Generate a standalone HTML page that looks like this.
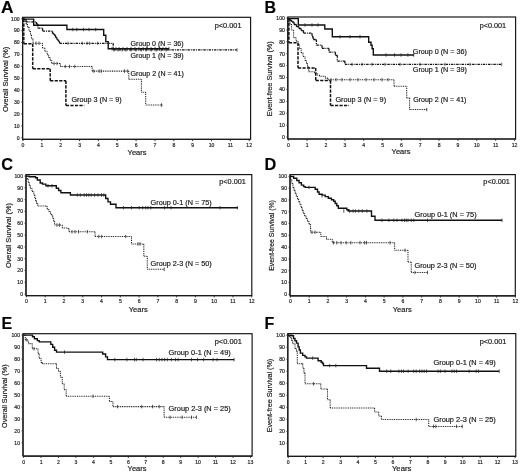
<!DOCTYPE html><html><head><meta charset="utf-8"><style>html,body{margin:0;padding:0;background:#fff;}svg{display:block;will-change:transform;}</style></head><body>
<svg width="520" height="474" viewBox="0 0 520 474" font-family='"Liberation Sans", sans-serif'>
<style>text{stroke:#222;stroke-width:0.18px;}</style>
<rect width="520" height="474" fill="#fff"/>
<text transform="translate(1,13) scale(1.08,1)" font-size="16" font-weight="bold" fill="#000">A</text>
<rect x="22.6" y="17.3" width="228" height="122.1" fill="none" stroke="#111" stroke-width="1.15"/>
<line x1="22.6" y1="17.3" x2="22.6" y2="139.4" stroke="#1a1a1a" stroke-width="1.15"/>
<line x1="22.6" y1="139.4" x2="250.6" y2="139.4" stroke="#1a1a1a" stroke-width="1.15"/>
<line x1="21" y1="137.8" x2="22.6" y2="137.8" stroke="#333" stroke-width="0.7"/>
<text x="19.6" y="139.6" font-size="5.1" text-anchor="end" fill="#222">0</text>
<line x1="21" y1="125.89" x2="22.6" y2="125.89" stroke="#333" stroke-width="0.7"/>
<text x="19.6" y="127.69" font-size="5.1" text-anchor="end" fill="#222">10</text>
<line x1="21" y1="113.98" x2="22.6" y2="113.98" stroke="#333" stroke-width="0.7"/>
<text x="19.6" y="115.78" font-size="5.1" text-anchor="end" fill="#222">20</text>
<line x1="21" y1="102.07" x2="22.6" y2="102.07" stroke="#333" stroke-width="0.7"/>
<text x="19.6" y="103.87" font-size="5.1" text-anchor="end" fill="#222">30</text>
<line x1="21" y1="90.16" x2="22.6" y2="90.16" stroke="#333" stroke-width="0.7"/>
<text x="19.6" y="91.96" font-size="5.1" text-anchor="end" fill="#222">40</text>
<line x1="21" y1="78.25" x2="22.6" y2="78.25" stroke="#333" stroke-width="0.7"/>
<text x="19.6" y="80.05" font-size="5.1" text-anchor="end" fill="#222">50</text>
<line x1="21" y1="66.34" x2="22.6" y2="66.34" stroke="#333" stroke-width="0.7"/>
<text x="19.6" y="68.14" font-size="5.1" text-anchor="end" fill="#222">60</text>
<line x1="21" y1="54.43" x2="22.6" y2="54.43" stroke="#333" stroke-width="0.7"/>
<text x="19.6" y="56.23" font-size="5.1" text-anchor="end" fill="#222">70</text>
<line x1="21" y1="42.52" x2="22.6" y2="42.52" stroke="#333" stroke-width="0.7"/>
<text x="19.6" y="44.32" font-size="5.1" text-anchor="end" fill="#222">80</text>
<line x1="21" y1="30.61" x2="22.6" y2="30.61" stroke="#333" stroke-width="0.7"/>
<text x="19.6" y="32.41" font-size="5.1" text-anchor="end" fill="#222">90</text>
<line x1="21" y1="18.7" x2="22.6" y2="18.7" stroke="#333" stroke-width="0.7"/>
<text x="19.6" y="20.5" font-size="5.1" text-anchor="end" fill="#222">100</text>
<line x1="23" y1="139.4" x2="23" y2="141.2" stroke="#222" stroke-width="0.9"/>
<text x="23" y="146.95" font-size="5.1" text-anchor="middle" fill="#222">0</text>
<line x1="41.85" y1="139.4" x2="41.85" y2="141.2" stroke="#222" stroke-width="0.9"/>
<text x="41.85" y="146.95" font-size="5.1" text-anchor="middle" fill="#222">1</text>
<line x1="60.7" y1="139.4" x2="60.7" y2="141.2" stroke="#222" stroke-width="0.9"/>
<text x="60.7" y="146.95" font-size="5.1" text-anchor="middle" fill="#222">2</text>
<line x1="79.55" y1="139.4" x2="79.55" y2="141.2" stroke="#222" stroke-width="0.9"/>
<text x="79.55" y="146.95" font-size="5.1" text-anchor="middle" fill="#222">3</text>
<line x1="98.4" y1="139.4" x2="98.4" y2="141.2" stroke="#222" stroke-width="0.9"/>
<text x="98.4" y="146.95" font-size="5.1" text-anchor="middle" fill="#222">4</text>
<line x1="117.25" y1="139.4" x2="117.25" y2="141.2" stroke="#222" stroke-width="0.9"/>
<text x="117.25" y="146.95" font-size="5.1" text-anchor="middle" fill="#222">5</text>
<line x1="136.1" y1="139.4" x2="136.1" y2="141.2" stroke="#222" stroke-width="0.9"/>
<text x="136.1" y="146.95" font-size="5.1" text-anchor="middle" fill="#222">6</text>
<line x1="154.95" y1="139.4" x2="154.95" y2="141.2" stroke="#222" stroke-width="0.9"/>
<text x="154.95" y="146.95" font-size="5.1" text-anchor="middle" fill="#222">7</text>
<line x1="173.8" y1="139.4" x2="173.8" y2="141.2" stroke="#222" stroke-width="0.9"/>
<text x="173.8" y="146.95" font-size="5.1" text-anchor="middle" fill="#222">8</text>
<line x1="192.65" y1="139.4" x2="192.65" y2="141.2" stroke="#222" stroke-width="0.9"/>
<text x="192.65" y="146.95" font-size="5.1" text-anchor="middle" fill="#222">9</text>
<line x1="211.5" y1="139.4" x2="211.5" y2="141.2" stroke="#222" stroke-width="0.9"/>
<text x="211.5" y="146.95" font-size="5.1" text-anchor="middle" fill="#222">10</text>
<line x1="230.35" y1="139.4" x2="230.35" y2="141.2" stroke="#222" stroke-width="0.9"/>
<text x="230.35" y="146.95" font-size="5.1" text-anchor="middle" fill="#222">11</text>
<line x1="249.2" y1="139.4" x2="249.2" y2="141.2" stroke="#222" stroke-width="0.9"/>
<text x="249.2" y="146.95" font-size="5.1" text-anchor="middle" fill="#222">12</text>
<text x="264.5" y="12.9" font-size="16" font-weight="bold" fill="#000">B</text>
<rect x="287.8" y="17" width="227.8" height="122" fill="none" stroke="#111" stroke-width="1.15"/>
<line x1="287.8" y1="17" x2="287.8" y2="139" stroke="#1a1a1a" stroke-width="1.15"/>
<line x1="287.8" y1="139" x2="515.6" y2="139" stroke="#1a1a1a" stroke-width="1.15"/>
<line x1="286.2" y1="137" x2="287.8" y2="137" stroke="#333" stroke-width="0.7"/>
<text x="284.8" y="138.8" font-size="5.1" text-anchor="end" fill="#222">0</text>
<line x1="286.2" y1="125.11" x2="287.8" y2="125.11" stroke="#333" stroke-width="0.7"/>
<text x="284.8" y="126.91" font-size="5.1" text-anchor="end" fill="#222">10</text>
<line x1="286.2" y1="113.22" x2="287.8" y2="113.22" stroke="#333" stroke-width="0.7"/>
<text x="284.8" y="115.02" font-size="5.1" text-anchor="end" fill="#222">20</text>
<line x1="286.2" y1="101.33" x2="287.8" y2="101.33" stroke="#333" stroke-width="0.7"/>
<text x="284.8" y="103.13" font-size="5.1" text-anchor="end" fill="#222">30</text>
<line x1="286.2" y1="89.44" x2="287.8" y2="89.44" stroke="#333" stroke-width="0.7"/>
<text x="284.8" y="91.24" font-size="5.1" text-anchor="end" fill="#222">40</text>
<line x1="286.2" y1="77.55" x2="287.8" y2="77.55" stroke="#333" stroke-width="0.7"/>
<text x="284.8" y="79.35" font-size="5.1" text-anchor="end" fill="#222">50</text>
<line x1="286.2" y1="65.66" x2="287.8" y2="65.66" stroke="#333" stroke-width="0.7"/>
<text x="284.8" y="67.46" font-size="5.1" text-anchor="end" fill="#222">60</text>
<line x1="286.2" y1="53.77" x2="287.8" y2="53.77" stroke="#333" stroke-width="0.7"/>
<text x="284.8" y="55.57" font-size="5.1" text-anchor="end" fill="#222">70</text>
<line x1="286.2" y1="41.88" x2="287.8" y2="41.88" stroke="#333" stroke-width="0.7"/>
<text x="284.8" y="43.68" font-size="5.1" text-anchor="end" fill="#222">80</text>
<line x1="286.2" y1="29.99" x2="287.8" y2="29.99" stroke="#333" stroke-width="0.7"/>
<text x="284.8" y="31.79" font-size="5.1" text-anchor="end" fill="#222">90</text>
<line x1="286.2" y1="18.1" x2="287.8" y2="18.1" stroke="#333" stroke-width="0.7"/>
<text x="284.8" y="19.9" font-size="5.1" text-anchor="end" fill="#222">100</text>
<line x1="288.3" y1="139" x2="288.3" y2="140.8" stroke="#222" stroke-width="0.9"/>
<text x="288.3" y="146.55" font-size="5.1" text-anchor="middle" fill="#222">0</text>
<line x1="307.15" y1="139" x2="307.15" y2="140.8" stroke="#222" stroke-width="0.9"/>
<text x="307.15" y="146.55" font-size="5.1" text-anchor="middle" fill="#222">1</text>
<line x1="326" y1="139" x2="326" y2="140.8" stroke="#222" stroke-width="0.9"/>
<text x="326" y="146.55" font-size="5.1" text-anchor="middle" fill="#222">2</text>
<line x1="344.85" y1="139" x2="344.85" y2="140.8" stroke="#222" stroke-width="0.9"/>
<text x="344.85" y="146.55" font-size="5.1" text-anchor="middle" fill="#222">3</text>
<line x1="363.7" y1="139" x2="363.7" y2="140.8" stroke="#222" stroke-width="0.9"/>
<text x="363.7" y="146.55" font-size="5.1" text-anchor="middle" fill="#222">4</text>
<line x1="382.55" y1="139" x2="382.55" y2="140.8" stroke="#222" stroke-width="0.9"/>
<text x="382.55" y="146.55" font-size="5.1" text-anchor="middle" fill="#222">5</text>
<line x1="401.4" y1="139" x2="401.4" y2="140.8" stroke="#222" stroke-width="0.9"/>
<text x="401.4" y="146.55" font-size="5.1" text-anchor="middle" fill="#222">6</text>
<line x1="420.25" y1="139" x2="420.25" y2="140.8" stroke="#222" stroke-width="0.9"/>
<text x="420.25" y="146.55" font-size="5.1" text-anchor="middle" fill="#222">7</text>
<line x1="439.1" y1="139" x2="439.1" y2="140.8" stroke="#222" stroke-width="0.9"/>
<text x="439.1" y="146.55" font-size="5.1" text-anchor="middle" fill="#222">8</text>
<line x1="457.95" y1="139" x2="457.95" y2="140.8" stroke="#222" stroke-width="0.9"/>
<text x="457.95" y="146.55" font-size="5.1" text-anchor="middle" fill="#222">9</text>
<line x1="476.8" y1="139" x2="476.8" y2="140.8" stroke="#222" stroke-width="0.9"/>
<text x="476.8" y="146.55" font-size="5.1" text-anchor="middle" fill="#222">10</text>
<line x1="495.65" y1="139" x2="495.65" y2="140.8" stroke="#222" stroke-width="0.9"/>
<text x="495.65" y="146.55" font-size="5.1" text-anchor="middle" fill="#222">11</text>
<line x1="514.5" y1="139" x2="514.5" y2="140.8" stroke="#222" stroke-width="0.9"/>
<text x="514.5" y="146.55" font-size="5.1" text-anchor="middle" fill="#222">12</text>
<text x="1.2" y="169.9" font-size="16.3" font-weight="bold" fill="#000">C</text>
<rect x="26" y="174.6" width="225.8" height="121" fill="none" stroke="#111" stroke-width="1.15"/>
<line x1="26" y1="174.6" x2="26" y2="295.6" stroke="#1a1a1a" stroke-width="1.15"/>
<line x1="26" y1="295.6" x2="251.8" y2="295.6" stroke="#1a1a1a" stroke-width="1.15"/>
<line x1="24.4" y1="294.1" x2="26" y2="294.1" stroke="#333" stroke-width="0.7"/>
<text x="23" y="295.9" font-size="5.1" text-anchor="end" fill="#222">0</text>
<line x1="24.4" y1="282.3" x2="26" y2="282.3" stroke="#333" stroke-width="0.7"/>
<text x="23" y="284.1" font-size="5.1" text-anchor="end" fill="#222">10</text>
<line x1="24.4" y1="270.5" x2="26" y2="270.5" stroke="#333" stroke-width="0.7"/>
<text x="23" y="272.3" font-size="5.1" text-anchor="end" fill="#222">20</text>
<line x1="24.4" y1="258.7" x2="26" y2="258.7" stroke="#333" stroke-width="0.7"/>
<text x="23" y="260.5" font-size="5.1" text-anchor="end" fill="#222">30</text>
<line x1="24.4" y1="246.9" x2="26" y2="246.9" stroke="#333" stroke-width="0.7"/>
<text x="23" y="248.7" font-size="5.1" text-anchor="end" fill="#222">40</text>
<line x1="24.4" y1="235.1" x2="26" y2="235.1" stroke="#333" stroke-width="0.7"/>
<text x="23" y="236.9" font-size="5.1" text-anchor="end" fill="#222">50</text>
<line x1="24.4" y1="223.3" x2="26" y2="223.3" stroke="#333" stroke-width="0.7"/>
<text x="23" y="225.1" font-size="5.1" text-anchor="end" fill="#222">60</text>
<line x1="24.4" y1="211.5" x2="26" y2="211.5" stroke="#333" stroke-width="0.7"/>
<text x="23" y="213.3" font-size="5.1" text-anchor="end" fill="#222">70</text>
<line x1="24.4" y1="199.7" x2="26" y2="199.7" stroke="#333" stroke-width="0.7"/>
<text x="23" y="201.5" font-size="5.1" text-anchor="end" fill="#222">80</text>
<line x1="24.4" y1="187.9" x2="26" y2="187.9" stroke="#333" stroke-width="0.7"/>
<text x="23" y="189.7" font-size="5.1" text-anchor="end" fill="#222">90</text>
<line x1="24.4" y1="176.1" x2="26" y2="176.1" stroke="#333" stroke-width="0.7"/>
<text x="23" y="177.9" font-size="5.1" text-anchor="end" fill="#222">100</text>
<line x1="26.4" y1="295.6" x2="26.4" y2="297.4" stroke="#222" stroke-width="0.9"/>
<text x="26.4" y="303.15" font-size="5.1" text-anchor="middle" fill="#222">0</text>
<line x1="45.18" y1="295.6" x2="45.18" y2="297.4" stroke="#222" stroke-width="0.9"/>
<text x="45.18" y="303.15" font-size="5.1" text-anchor="middle" fill="#222">1</text>
<line x1="63.96" y1="295.6" x2="63.96" y2="297.4" stroke="#222" stroke-width="0.9"/>
<text x="63.96" y="303.15" font-size="5.1" text-anchor="middle" fill="#222">2</text>
<line x1="82.74" y1="295.6" x2="82.74" y2="297.4" stroke="#222" stroke-width="0.9"/>
<text x="82.74" y="303.15" font-size="5.1" text-anchor="middle" fill="#222">3</text>
<line x1="101.52" y1="295.6" x2="101.52" y2="297.4" stroke="#222" stroke-width="0.9"/>
<text x="101.52" y="303.15" font-size="5.1" text-anchor="middle" fill="#222">4</text>
<line x1="120.3" y1="295.6" x2="120.3" y2="297.4" stroke="#222" stroke-width="0.9"/>
<text x="120.3" y="303.15" font-size="5.1" text-anchor="middle" fill="#222">5</text>
<line x1="139.08" y1="295.6" x2="139.08" y2="297.4" stroke="#222" stroke-width="0.9"/>
<text x="139.08" y="303.15" font-size="5.1" text-anchor="middle" fill="#222">6</text>
<line x1="157.86" y1="295.6" x2="157.86" y2="297.4" stroke="#222" stroke-width="0.9"/>
<text x="157.86" y="303.15" font-size="5.1" text-anchor="middle" fill="#222">7</text>
<line x1="176.64" y1="295.6" x2="176.64" y2="297.4" stroke="#222" stroke-width="0.9"/>
<text x="176.64" y="303.15" font-size="5.1" text-anchor="middle" fill="#222">8</text>
<line x1="195.42" y1="295.6" x2="195.42" y2="297.4" stroke="#222" stroke-width="0.9"/>
<text x="195.42" y="303.15" font-size="5.1" text-anchor="middle" fill="#222">9</text>
<line x1="214.2" y1="295.6" x2="214.2" y2="297.4" stroke="#222" stroke-width="0.9"/>
<text x="214.2" y="303.15" font-size="5.1" text-anchor="middle" fill="#222">10</text>
<line x1="232.98" y1="295.6" x2="232.98" y2="297.4" stroke="#222" stroke-width="0.9"/>
<text x="232.98" y="303.15" font-size="5.1" text-anchor="middle" fill="#222">11</text>
<line x1="251.76" y1="295.6" x2="251.76" y2="297.4" stroke="#222" stroke-width="0.9"/>
<text x="251.76" y="303.15" font-size="5.1" text-anchor="middle" fill="#222">12</text>
<text x="264.5" y="169.6" font-size="16.3" font-weight="bold" fill="#000">D</text>
<rect x="290" y="174.6" width="225.3" height="121.2" fill="none" stroke="#111" stroke-width="1.15"/>
<line x1="290" y1="174.6" x2="290" y2="295.8" stroke="#1a1a1a" stroke-width="1.15"/>
<line x1="290" y1="295.8" x2="515.3" y2="295.8" stroke="#1a1a1a" stroke-width="1.15"/>
<line x1="288.4" y1="294.3" x2="290" y2="294.3" stroke="#333" stroke-width="0.7"/>
<text x="287" y="296.1" font-size="5.1" text-anchor="end" fill="#222">0</text>
<line x1="288.4" y1="282.51" x2="290" y2="282.51" stroke="#333" stroke-width="0.7"/>
<text x="287" y="284.31" font-size="5.1" text-anchor="end" fill="#222">10</text>
<line x1="288.4" y1="270.72" x2="290" y2="270.72" stroke="#333" stroke-width="0.7"/>
<text x="287" y="272.52" font-size="5.1" text-anchor="end" fill="#222">20</text>
<line x1="288.4" y1="258.93" x2="290" y2="258.93" stroke="#333" stroke-width="0.7"/>
<text x="287" y="260.73" font-size="5.1" text-anchor="end" fill="#222">30</text>
<line x1="288.4" y1="247.14" x2="290" y2="247.14" stroke="#333" stroke-width="0.7"/>
<text x="287" y="248.94" font-size="5.1" text-anchor="end" fill="#222">40</text>
<line x1="288.4" y1="235.35" x2="290" y2="235.35" stroke="#333" stroke-width="0.7"/>
<text x="287" y="237.15" font-size="5.1" text-anchor="end" fill="#222">50</text>
<line x1="288.4" y1="223.56" x2="290" y2="223.56" stroke="#333" stroke-width="0.7"/>
<text x="287" y="225.36" font-size="5.1" text-anchor="end" fill="#222">60</text>
<line x1="288.4" y1="211.77" x2="290" y2="211.77" stroke="#333" stroke-width="0.7"/>
<text x="287" y="213.57" font-size="5.1" text-anchor="end" fill="#222">70</text>
<line x1="288.4" y1="199.98" x2="290" y2="199.98" stroke="#333" stroke-width="0.7"/>
<text x="287" y="201.78" font-size="5.1" text-anchor="end" fill="#222">80</text>
<line x1="288.4" y1="188.19" x2="290" y2="188.19" stroke="#333" stroke-width="0.7"/>
<text x="287" y="189.99" font-size="5.1" text-anchor="end" fill="#222">90</text>
<line x1="288.4" y1="176.4" x2="290" y2="176.4" stroke="#333" stroke-width="0.7"/>
<text x="287" y="178.2" font-size="5.1" text-anchor="end" fill="#222">100</text>
<line x1="290.4" y1="295.8" x2="290.4" y2="297.6" stroke="#222" stroke-width="0.9"/>
<text x="290.4" y="303.35" font-size="5.1" text-anchor="middle" fill="#222">0</text>
<line x1="309.15" y1="295.8" x2="309.15" y2="297.6" stroke="#222" stroke-width="0.9"/>
<text x="309.15" y="303.35" font-size="5.1" text-anchor="middle" fill="#222">1</text>
<line x1="327.9" y1="295.8" x2="327.9" y2="297.6" stroke="#222" stroke-width="0.9"/>
<text x="327.9" y="303.35" font-size="5.1" text-anchor="middle" fill="#222">2</text>
<line x1="346.65" y1="295.8" x2="346.65" y2="297.6" stroke="#222" stroke-width="0.9"/>
<text x="346.65" y="303.35" font-size="5.1" text-anchor="middle" fill="#222">3</text>
<line x1="365.4" y1="295.8" x2="365.4" y2="297.6" stroke="#222" stroke-width="0.9"/>
<text x="365.4" y="303.35" font-size="5.1" text-anchor="middle" fill="#222">4</text>
<line x1="384.15" y1="295.8" x2="384.15" y2="297.6" stroke="#222" stroke-width="0.9"/>
<text x="384.15" y="303.35" font-size="5.1" text-anchor="middle" fill="#222">5</text>
<line x1="402.9" y1="295.8" x2="402.9" y2="297.6" stroke="#222" stroke-width="0.9"/>
<text x="402.9" y="303.35" font-size="5.1" text-anchor="middle" fill="#222">6</text>
<line x1="421.65" y1="295.8" x2="421.65" y2="297.6" stroke="#222" stroke-width="0.9"/>
<text x="421.65" y="303.35" font-size="5.1" text-anchor="middle" fill="#222">7</text>
<line x1="440.4" y1="295.8" x2="440.4" y2="297.6" stroke="#222" stroke-width="0.9"/>
<text x="440.4" y="303.35" font-size="5.1" text-anchor="middle" fill="#222">8</text>
<line x1="459.15" y1="295.8" x2="459.15" y2="297.6" stroke="#222" stroke-width="0.9"/>
<text x="459.15" y="303.35" font-size="5.1" text-anchor="middle" fill="#222">9</text>
<line x1="477.9" y1="295.8" x2="477.9" y2="297.6" stroke="#222" stroke-width="0.9"/>
<text x="477.9" y="303.35" font-size="5.1" text-anchor="middle" fill="#222">10</text>
<line x1="496.65" y1="295.8" x2="496.65" y2="297.6" stroke="#222" stroke-width="0.9"/>
<text x="496.65" y="303.35" font-size="5.1" text-anchor="middle" fill="#222">11</text>
<line x1="515.4" y1="295.8" x2="515.4" y2="297.6" stroke="#222" stroke-width="0.9"/>
<text x="515.4" y="303.35" font-size="5.1" text-anchor="middle" fill="#222">12</text>
<text x="1.6" y="328.9" font-size="16" font-weight="bold" fill="#000">E</text>
<rect x="23" y="333.7" width="229.1" height="122.4" fill="none" stroke="#111" stroke-width="1.15"/>
<line x1="23" y1="333.7" x2="23" y2="456.1" stroke="#1a1a1a" stroke-width="1.15"/>
<line x1="23" y1="456.1" x2="252.1" y2="456.1" stroke="#1a1a1a" stroke-width="1.15"/>
<line x1="21.4" y1="442.92" x2="23" y2="442.92" stroke="#333" stroke-width="0.7"/>
<text x="20" y="444.72" font-size="5.1" text-anchor="end" fill="#222">10</text>
<line x1="21.4" y1="430.94" x2="23" y2="430.94" stroke="#333" stroke-width="0.7"/>
<text x="20" y="432.74" font-size="5.1" text-anchor="end" fill="#222">20</text>
<line x1="21.4" y1="418.96" x2="23" y2="418.96" stroke="#333" stroke-width="0.7"/>
<text x="20" y="420.76" font-size="5.1" text-anchor="end" fill="#222">30</text>
<line x1="21.4" y1="406.98" x2="23" y2="406.98" stroke="#333" stroke-width="0.7"/>
<text x="20" y="408.78" font-size="5.1" text-anchor="end" fill="#222">40</text>
<line x1="21.4" y1="395" x2="23" y2="395" stroke="#333" stroke-width="0.7"/>
<text x="20" y="396.8" font-size="5.1" text-anchor="end" fill="#222">50</text>
<line x1="21.4" y1="383.02" x2="23" y2="383.02" stroke="#333" stroke-width="0.7"/>
<text x="20" y="384.82" font-size="5.1" text-anchor="end" fill="#222">60</text>
<line x1="21.4" y1="371.04" x2="23" y2="371.04" stroke="#333" stroke-width="0.7"/>
<text x="20" y="372.84" font-size="5.1" text-anchor="end" fill="#222">70</text>
<line x1="21.4" y1="359.06" x2="23" y2="359.06" stroke="#333" stroke-width="0.7"/>
<text x="20" y="360.86" font-size="5.1" text-anchor="end" fill="#222">80</text>
<line x1="21.4" y1="347.08" x2="23" y2="347.08" stroke="#333" stroke-width="0.7"/>
<text x="20" y="348.88" font-size="5.1" text-anchor="end" fill="#222">90</text>
<line x1="21.4" y1="335.1" x2="23" y2="335.1" stroke="#333" stroke-width="0.7"/>
<text x="20" y="336.9" font-size="5.1" text-anchor="end" fill="#222">100</text>
<line x1="23.6" y1="456.1" x2="23.6" y2="457.9" stroke="#222" stroke-width="0.9"/>
<text x="23.6" y="463.65" font-size="5.1" text-anchor="middle" fill="#222">0</text>
<line x1="41.05" y1="456.1" x2="41.05" y2="457.9" stroke="#222" stroke-width="0.9"/>
<text x="41.05" y="463.65" font-size="5.1" text-anchor="middle" fill="#222">1</text>
<line x1="58.5" y1="456.1" x2="58.5" y2="457.9" stroke="#222" stroke-width="0.9"/>
<text x="58.5" y="463.65" font-size="5.1" text-anchor="middle" fill="#222">2</text>
<line x1="75.95" y1="456.1" x2="75.95" y2="457.9" stroke="#222" stroke-width="0.9"/>
<text x="75.95" y="463.65" font-size="5.1" text-anchor="middle" fill="#222">3</text>
<line x1="93.4" y1="456.1" x2="93.4" y2="457.9" stroke="#222" stroke-width="0.9"/>
<text x="93.4" y="463.65" font-size="5.1" text-anchor="middle" fill="#222">4</text>
<line x1="110.85" y1="456.1" x2="110.85" y2="457.9" stroke="#222" stroke-width="0.9"/>
<text x="110.85" y="463.65" font-size="5.1" text-anchor="middle" fill="#222">5</text>
<line x1="128.3" y1="456.1" x2="128.3" y2="457.9" stroke="#222" stroke-width="0.9"/>
<text x="128.3" y="463.65" font-size="5.1" text-anchor="middle" fill="#222">6</text>
<line x1="145.75" y1="456.1" x2="145.75" y2="457.9" stroke="#222" stroke-width="0.9"/>
<text x="145.75" y="463.65" font-size="5.1" text-anchor="middle" fill="#222">7</text>
<line x1="163.2" y1="456.1" x2="163.2" y2="457.9" stroke="#222" stroke-width="0.9"/>
<text x="163.2" y="463.65" font-size="5.1" text-anchor="middle" fill="#222">8</text>
<line x1="180.65" y1="456.1" x2="180.65" y2="457.9" stroke="#222" stroke-width="0.9"/>
<text x="180.65" y="463.65" font-size="5.1" text-anchor="middle" fill="#222">9</text>
<line x1="198.1" y1="456.1" x2="198.1" y2="457.9" stroke="#222" stroke-width="0.9"/>
<text x="198.1" y="463.65" font-size="5.1" text-anchor="middle" fill="#222">10</text>
<line x1="215.55" y1="456.1" x2="215.55" y2="457.9" stroke="#222" stroke-width="0.9"/>
<text x="215.55" y="463.65" font-size="5.1" text-anchor="middle" fill="#222">11</text>
<line x1="233" y1="456.1" x2="233" y2="457.9" stroke="#222" stroke-width="0.9"/>
<text x="233" y="463.65" font-size="5.1" text-anchor="middle" fill="#222">12</text>
<line x1="250.45" y1="456.1" x2="250.45" y2="457.9" stroke="#222" stroke-width="0.9"/>
<text x="250.45" y="463.65" font-size="5.1" text-anchor="middle" fill="#222">13</text>
<text x="264.4" y="328.9" font-size="16" font-weight="bold" fill="#000">F</text>
<rect x="287.8" y="333.6" width="228" height="122.8" fill="none" stroke="#111" stroke-width="1.15"/>
<line x1="287.8" y1="333.6" x2="287.8" y2="456.4" stroke="#1a1a1a" stroke-width="1.15"/>
<line x1="287.8" y1="456.4" x2="515.8" y2="456.4" stroke="#1a1a1a" stroke-width="1.15"/>
<line x1="286.2" y1="443.21" x2="287.8" y2="443.21" stroke="#333" stroke-width="0.7"/>
<text x="284.8" y="445.01" font-size="5.1" text-anchor="end" fill="#222">10</text>
<line x1="286.2" y1="431.22" x2="287.8" y2="431.22" stroke="#333" stroke-width="0.7"/>
<text x="284.8" y="433.02" font-size="5.1" text-anchor="end" fill="#222">20</text>
<line x1="286.2" y1="419.23" x2="287.8" y2="419.23" stroke="#333" stroke-width="0.7"/>
<text x="284.8" y="421.03" font-size="5.1" text-anchor="end" fill="#222">30</text>
<line x1="286.2" y1="407.24" x2="287.8" y2="407.24" stroke="#333" stroke-width="0.7"/>
<text x="284.8" y="409.04" font-size="5.1" text-anchor="end" fill="#222">40</text>
<line x1="286.2" y1="395.25" x2="287.8" y2="395.25" stroke="#333" stroke-width="0.7"/>
<text x="284.8" y="397.05" font-size="5.1" text-anchor="end" fill="#222">50</text>
<line x1="286.2" y1="383.26" x2="287.8" y2="383.26" stroke="#333" stroke-width="0.7"/>
<text x="284.8" y="385.06" font-size="5.1" text-anchor="end" fill="#222">60</text>
<line x1="286.2" y1="371.27" x2="287.8" y2="371.27" stroke="#333" stroke-width="0.7"/>
<text x="284.8" y="373.07" font-size="5.1" text-anchor="end" fill="#222">70</text>
<line x1="286.2" y1="359.28" x2="287.8" y2="359.28" stroke="#333" stroke-width="0.7"/>
<text x="284.8" y="361.08" font-size="5.1" text-anchor="end" fill="#222">80</text>
<line x1="286.2" y1="347.29" x2="287.8" y2="347.29" stroke="#333" stroke-width="0.7"/>
<text x="284.8" y="349.09" font-size="5.1" text-anchor="end" fill="#222">90</text>
<line x1="286.2" y1="335.3" x2="287.8" y2="335.3" stroke="#333" stroke-width="0.7"/>
<text x="284.8" y="337.1" font-size="5.1" text-anchor="end" fill="#222">100</text>
<line x1="288.2" y1="456.4" x2="288.2" y2="458.2" stroke="#222" stroke-width="0.9"/>
<text x="288.2" y="463.95" font-size="5.1" text-anchor="middle" fill="#222">0</text>
<line x1="305.65" y1="456.4" x2="305.65" y2="458.2" stroke="#222" stroke-width="0.9"/>
<text x="305.65" y="463.95" font-size="5.1" text-anchor="middle" fill="#222">1</text>
<line x1="323.1" y1="456.4" x2="323.1" y2="458.2" stroke="#222" stroke-width="0.9"/>
<text x="323.1" y="463.95" font-size="5.1" text-anchor="middle" fill="#222">2</text>
<line x1="340.55" y1="456.4" x2="340.55" y2="458.2" stroke="#222" stroke-width="0.9"/>
<text x="340.55" y="463.95" font-size="5.1" text-anchor="middle" fill="#222">3</text>
<line x1="358" y1="456.4" x2="358" y2="458.2" stroke="#222" stroke-width="0.9"/>
<text x="358" y="463.95" font-size="5.1" text-anchor="middle" fill="#222">4</text>
<line x1="375.45" y1="456.4" x2="375.45" y2="458.2" stroke="#222" stroke-width="0.9"/>
<text x="375.45" y="463.95" font-size="5.1" text-anchor="middle" fill="#222">5</text>
<line x1="392.9" y1="456.4" x2="392.9" y2="458.2" stroke="#222" stroke-width="0.9"/>
<text x="392.9" y="463.95" font-size="5.1" text-anchor="middle" fill="#222">6</text>
<line x1="410.35" y1="456.4" x2="410.35" y2="458.2" stroke="#222" stroke-width="0.9"/>
<text x="410.35" y="463.95" font-size="5.1" text-anchor="middle" fill="#222">7</text>
<line x1="427.8" y1="456.4" x2="427.8" y2="458.2" stroke="#222" stroke-width="0.9"/>
<text x="427.8" y="463.95" font-size="5.1" text-anchor="middle" fill="#222">8</text>
<line x1="445.25" y1="456.4" x2="445.25" y2="458.2" stroke="#222" stroke-width="0.9"/>
<text x="445.25" y="463.95" font-size="5.1" text-anchor="middle" fill="#222">9</text>
<line x1="462.7" y1="456.4" x2="462.7" y2="458.2" stroke="#222" stroke-width="0.9"/>
<text x="462.7" y="463.95" font-size="5.1" text-anchor="middle" fill="#222">10</text>
<line x1="480.15" y1="456.4" x2="480.15" y2="458.2" stroke="#222" stroke-width="0.9"/>
<text x="480.15" y="463.95" font-size="5.1" text-anchor="middle" fill="#222">11</text>
<line x1="497.6" y1="456.4" x2="497.6" y2="458.2" stroke="#222" stroke-width="0.9"/>
<text x="497.6" y="463.95" font-size="5.1" text-anchor="middle" fill="#222">12</text>
<line x1="515.05" y1="456.4" x2="515.05" y2="458.2" stroke="#222" stroke-width="0.9"/>
<text x="515.05" y="463.95" font-size="5.1" text-anchor="middle" fill="#222">13</text>
<text x="130.55" y="45.5" font-size="7.0" textLength="53.09" lengthAdjust="spacingAndGlyphs" fill="#111">Group 0 (N = 36)</text>
<text x="130.55" y="57.9" font-size="7.0" textLength="53.09" lengthAdjust="spacingAndGlyphs" fill="#111">Group 1 (N = 39)</text>
<text x="130.55" y="75.6" font-size="7.0" textLength="53.29" lengthAdjust="spacingAndGlyphs" fill="#111">Group 2 (N = 41)</text>
<text x="71.44" y="101.6" font-size="7.05" textLength="50.31" lengthAdjust="spacingAndGlyphs" fill="#111">Group 3 (N = 9)</text>
<text x="412.84" y="53.8" font-size="7.1" textLength="54.01" lengthAdjust="spacingAndGlyphs" fill="#111">Group 0 (N = 36)</text>
<text x="412.84" y="71.7" font-size="7.1" textLength="54.01" lengthAdjust="spacingAndGlyphs" fill="#111">Group 1 (N = 39)</text>
<text x="413.15" y="101.8" font-size="7.1" textLength="53.29" lengthAdjust="spacingAndGlyphs" fill="#111">Group 2 (N = 41)</text>
<text x="335.44" y="101.5" font-size="7.1" textLength="50.61" lengthAdjust="spacingAndGlyphs" fill="#111">Group 3 (N = 9)</text>
<text x="150.64" y="204.5" font-size="7.2" textLength="61.12" lengthAdjust="spacingAndGlyphs" fill="#111">Group 0-1 (N = 75)</text>
<text x="150.64" y="265.5" font-size="7.2" textLength="61.12" lengthAdjust="spacingAndGlyphs" fill="#111">Group 2-3 (N = 50)</text>
<text x="414.63" y="217" font-size="7.3" textLength="62.03" lengthAdjust="spacingAndGlyphs" fill="#111">Group 0-1 (N = 75)</text>
<text x="414.43" y="268" font-size="7.3" textLength="62.03" lengthAdjust="spacingAndGlyphs" fill="#111">Group 2-3 (N = 50)</text>
<text x="168.43" y="355.1" font-size="7.33" textLength="62.33" lengthAdjust="spacingAndGlyphs" fill="#111">Group 0-1 (N = 49)</text>
<text x="168.63" y="411" font-size="7.33" textLength="62.13" lengthAdjust="spacingAndGlyphs" fill="#111">Group 2-3 (N = 25)</text>
<text x="433.43" y="365" font-size="7.33" textLength="62.33" lengthAdjust="spacingAndGlyphs" fill="#111">Group 0-1 (N = 49)</text>
<text x="433.43" y="421.5" font-size="7.33" textLength="62.33" lengthAdjust="spacingAndGlyphs" fill="#111">Group 2-3 (N = 25)</text>
<text x="214.72" y="28" font-size="7.25" textLength="26.84" lengthAdjust="spacingAndGlyphs" fill="#111">p&lt;0.001</text>
<text x="479.73" y="27.8" font-size="7.25" textLength="26.43" lengthAdjust="spacingAndGlyphs" fill="#111">p&lt;0.001</text>
<text x="219.33" y="183.8" font-size="7.25" textLength="26.43" lengthAdjust="spacingAndGlyphs" fill="#111">p&lt;0.001</text>
<text x="483.33" y="184.2" font-size="7.25" textLength="26.53" lengthAdjust="spacingAndGlyphs" fill="#111">p&lt;0.001</text>
<text x="214.72" y="344.4" font-size="7.25" textLength="27.15" lengthAdjust="spacingAndGlyphs" fill="#111">p&lt;0.001</text>
<text x="479.72" y="344.4" font-size="7.25" textLength="26.64" lengthAdjust="spacingAndGlyphs" fill="#111">p&lt;0.001</text>
<text x="127.64" y="154.5" font-size="7.4" textLength="18.83" lengthAdjust="spacingAndGlyphs" fill="#111">Years</text>
<text x="391.64" y="154.2" font-size="7.4" textLength="18.83" lengthAdjust="spacingAndGlyphs" fill="#111">Years</text>
<text x="128.73" y="311.7" font-size="7.4" textLength="18.93" lengthAdjust="spacingAndGlyphs" fill="#111">Years</text>
<text x="392.73" y="311.7" font-size="7.4" textLength="18.93" lengthAdjust="spacingAndGlyphs" fill="#111">Years</text>
<text x="127.64" y="471.3" font-size="7.4" textLength="18.83" lengthAdjust="spacingAndGlyphs" fill="#111">Years</text>
<text x="391.93" y="471.3" font-size="7.4" textLength="19.44" lengthAdjust="spacingAndGlyphs" fill="#111">Years</text>
<text transform="translate(7.8,112.05) rotate(-90)" x="0" y="0" font-size="7.3" textLength="65.2" lengthAdjust="spacingAndGlyphs" fill="#111">Overall Survival (%)</text>
<text transform="translate(272.4,116.2) rotate(-90)" x="0" y="0" font-size="7.25" textLength="74.95" lengthAdjust="spacingAndGlyphs" fill="#111">Event-free Survival (%)</text>
<text transform="translate(11,268.05) rotate(-90)" x="0" y="0" font-size="7.3" textLength="65" lengthAdjust="spacingAndGlyphs" fill="#111">Overall Survival (%)</text>
<text transform="translate(274,270.76) rotate(-90)" x="0" y="0" font-size="7.0" textLength="70.59" lengthAdjust="spacingAndGlyphs" fill="#111">Event-free Survival (%)</text>
<text transform="translate(7.4,427.94) rotate(-90)" x="0" y="0" font-size="7.15" textLength="63.48" lengthAdjust="spacingAndGlyphs" fill="#111">Overall Survival (%)</text>
<text transform="translate(272,432.29) rotate(-90)" x="0" y="0" font-size="7.1" textLength="73.53" lengthAdjust="spacingAndGlyphs" fill="#111">Event-free Survival (%)</text>
<path d="M23 19.1H24.5M24.5 19.1V21M24.5 21H26M26 21V24M26 24H27.5M27.5 24V27M27.5 27H29M29 27V31M29 31H30.5M30.5 31V35M30.5 35H31.5M31.5 35V38.7M31.5 38.7H33M33 38.7V43.3M33 43.3H42.5M42.5 43.3V47.9M42.5 47.9H44.8M44.8 47.9V51.3M44.8 51.3H47.1M47.1 51.3V54.8M47.1 54.8H48.6M48.6 54.8V57.5M48.6 57.5H50.2M50.2 57.5V60.2M50.2 60.2H51.7M51.7 60.2V63.5M51.7 63.5H60.4M60.4 63.5V66.5M60.4 66.5H92.2M92.2 66.5V71.1M92.2 71.1H128.8M128.8 71.1V79.2M128.8 79.2H141.4M141.4 79.2V92.3M141.4 92.3H145.7M145.7 92.3V105M145.7 105H162.6" stroke="#222" stroke-width="1.05" fill="none" stroke-dasharray="1 0.8"/>
<path d="M36 41.55v3.5M39 41.55v3.5M54 61.75v3.5M57 61.75v3.5M65.3 64.75v3.5M69.5 64.75v3.5M74.8 64.75v3.5M93.8 69.35v3.5M99.1 69.35v3.5M101.3 69.35v3.5M124.5 69.35v3.5M127.7 69.35v3.5M161.5 103.25v3.5" stroke="#222" stroke-width="0.75" fill="none"/>
<path d="M23 19.1H23.8M23.8 19.1V43.8M23.8 43.8H32.7M32.7 43.8V68.7M32.7 68.7H50.2M50.2 68.7V80.8M50.2 80.8H65.9M65.9 80.8V105.6M65.9 105.6H84.3" stroke="#111" stroke-width="1.5" fill="none" stroke-dasharray="3.2 1.3"/>
<path d="M23 19.1H26M26 19.1V21.9M26 21.9H36.4M36.4 21.9V24M36.4 24H37.9M37.9 24V28.2M37.9 28.2H42.6M42.6 28.2V31.2M42.6 31.2H52.5M52.5 31.2V33.5M52.5 33.5H54M54 33.5V35M54 35H55.5M55.5 35V37.5M55.5 37.5H57M57 37.5V39.8M57 39.8H58.5M58.5 39.8V41.5M58.5 41.5H59.6M59.6 41.5V43.3M59.6 43.3H113.2M113.2 43.3V49.9M113.2 49.9H237" stroke="#111" stroke-width="1.3" fill="none" stroke-dasharray="2.5 0.9 1 0.9"/>
<path d="M68 41.55v3.5M82.2 41.55v3.5M87 41.55v3.5M89.6 41.55v3.5M97.7 41.55v3.5M114 48.15v3.5M118 48.15v3.5M122 48.15v3.5M126 48.15v3.5M131 48.15v3.5M136 48.15v3.5M141 48.15v3.5M146 48.15v3.5M151 48.15v3.5M156 48.15v3.5M161 48.15v3.5M166 48.15v3.5M237 48.15v3.5" stroke="#333" stroke-width="0.7" fill="none"/>
<path d="M23 19.1H33.7V25.3H66.9V29.5H103.7V35.3H105.8V41.6H108.2V48.7H169V48.7" stroke="#111" stroke-width="1.38" fill="none"/>
<path d="M72.8 27.75v3.5M76.8 27.75v3.5M83.5 27.75v3.5M89 27.75v3.5M95.7 27.75v3.5M112 46.95v3.5M116 46.95v3.5M119 46.95v3.5M123 46.95v3.5M127 46.95v3.5M131 46.95v3.5M135 46.95v3.5M139 46.95v3.5M143 46.95v3.5M147 46.95v3.5M151 46.95v3.5M155 46.95v3.5M159 46.95v3.5M163 46.95v3.5M166 46.95v3.5M169 46.95v3.5" stroke="#222" stroke-width="0.75" fill="none"/>
<path d="M288.3 18.6H289.8M289.8 18.6V24M289.8 24H291.5M291.5 24V30M291.5 30H293.6M293.6 30V37.6M293.6 37.6H296M296 37.6V41M296 41H298M298 41V44.6M298 44.6H299.5M299.5 44.6V48.5M299.5 48.5H301.2M301.2 48.5V52.8M301.2 52.8H303M303 52.8V56.5M303 56.5H305M305 56.5V60.4M305 60.4H306.5M306.5 60.4V63.5M306.5 63.5H307.5M307.5 63.5V66.7M307.5 66.7H308.8M308.8 66.7V71.8M308.8 71.8H314.5M314.5 71.8V73M314.5 73H317M317 73V75M317 75H319.5M319.5 75V76.2M319.5 76.2H325.2M325.2 76.2V78.1M325.2 78.1H327.8M327.8 78.1V79.7M327.8 79.7H394M394 79.7V86.3M394 86.3H406.7M406.7 86.3V98M406.7 98H409.6M409.6 98V109.5M409.6 109.5H426.8" stroke="#222" stroke-width="1.05" fill="none" stroke-dasharray="1 0.8"/>
<path d="M331 77.95v3.5M336 77.95v3.5M342 77.95v3.5M350 77.95v3.5M358 77.95v3.5M366 77.95v3.5M374 77.95v3.5M382 77.95v3.5M388 77.95v3.5M426.8 107.75v3.5" stroke="#222" stroke-width="0.75" fill="none"/>
<path d="M288.3 18.6H288.9M288.9 18.6V42.7M288.9 42.7H298M298 42.7V68M298 68H315.7M315.7 68V80.6M315.7 80.6H330.5M330.5 80.6V105.6M330.5 105.6H349.1" stroke="#111" stroke-width="1.5" fill="none" stroke-dasharray="3.2 1.3"/>
<path d="M288.3 18.6H290M290 18.6V20.5M290 20.5H291.9M291.9 20.5V22M291.9 22H294M294 22V24.5M294 24.5H296.5M296.5 24.5V26.7M296.5 26.7H299M299 26.7V28.5M299 28.5H301.2M301.2 28.5V30.6M301.2 30.6H303.5M303.5 30.6V33.2M303.5 33.2H312M312 33.2V36.5M312 36.5H313.2M313.2 36.5V39.5M313.2 39.5H316.4M316.4 39.5V45.2M316.4 45.2H322M322 45.2V48.4M322 48.4H329M329 48.4V52.2M329 52.2H335.4M335.4 52.2V55.3M335.4 55.3H337.3M337.3 55.3V61.1M337.3 61.1H344.9M344.9 61.1V64.4M344.9 64.4H501.7" stroke="#111" stroke-width="1.3" fill="none" stroke-dasharray="2.5 0.9 1 0.9"/>
<path d="M352 62.65v3.5M362 62.65v3.5M372 62.65v3.5M385 62.65v3.5M400 62.65v3.5M420 62.65v3.5M445 62.65v3.5M470 62.65v3.5M501.7 62.65v3.5" stroke="#333" stroke-width="0.7" fill="none"/>
<path d="M288.3 18.6H298.3V25H324.8V29H332.3V36.7H368.7V42.3H371V45.2H372.1V48.7H373.3V55H414V55" stroke="#111" stroke-width="1.38" fill="none"/>
<path d="M305 23.25v3.5M312 23.25v3.5M318 23.25v3.5M340 34.95v3.5M350 34.95v3.5M360 34.95v3.5M386 53.25v3.5M394.6 53.25v3.5M401 53.25v3.5M407.9 53.25v3.5M413.7 53.25v3.5" stroke="#222" stroke-width="0.75" fill="none"/>
<path d="M26.4 176.1H27.2M27.2 176.1V179M27.2 179H28.2M28.2 179V182.5M28.2 182.5H29.3M29.3 182.5V185.5M29.3 185.5H30.3M30.3 185.5V188.2M30.3 188.2H32M32 188.2V191.5M32 191.5H33.8M33.8 191.5V195M33.8 195H34.8M34.8 195V198M34.8 198H35.5M35.5 198V200.8M35.5 200.8H36.5M36.5 200.8V203.5M36.5 203.5H37.8M37.8 203.5V206M37.8 206H45.3M45.3 206H47.1M47.1 206V209M47.1 209H48.8M48.8 209V211.5M48.8 211.5H50.5M50.5 211.5V214M50.5 214H51.7M51.7 214V215.8M51.7 215.8H52.7M52.7 215.8V218.3M52.7 218.3H53.7M53.7 218.3V221.5M53.7 221.5H54.6M54.6 221.5V225M54.6 225H62.3M62.3 225V227.9M62.3 227.9H68M68 227.9V228.8M68 228.8H69M69 228.8V231.7M69 231.7H95M95 231.7V236.5M95 236.5H131.5M131.5 236.5V243.9M131.5 243.9H143.8M143.8 243.9V256.2M143.8 256.2H147.3M147.3 256.2V269.3M147.3 269.3H164.2" stroke="#222" stroke-width="1.05" fill="none" stroke-dasharray="1 0.8"/>
<path d="M57 223.25v3.5M59.5 223.25v3.5M72 229.95v3.5M75 229.95v3.5M78.6 229.95v3.5M87.3 229.95v3.5M98.8 234.75v3.5M101.7 234.75v3.5M125.7 234.75v3.5M138 242.15v3.5M140 242.15v3.5M164.2 267.55v3.5" stroke="#222" stroke-width="0.75" fill="none"/>
<path d="M26.4 176.1H29.2V176.8H35.5V177.8H37.3V180H40.2V183H42.5V184.1H45.9V185.8H56.3V188.2H58.6V190.5H60.9V192.8H70.4V195H105.7V198.5H108V201.9H110.5V204.2H116V207.7H238V207.7" stroke="#111" stroke-width="1.38" fill="none"/>
<path d="M48 184.05v3.5M52 184.05v3.5M77.3 193.25v3.5M80.3 193.25v3.5M84.2 193.25v3.5M86.5 193.25v3.5M88.8 193.25v3.5M91.2 193.25v3.5M94.6 193.25v3.5M98 193.25v3.5M101.5 193.25v3.5M103.8 193.25v3.5M123.5 205.95v3.5M131.5 205.95v3.5M139.2 205.95v3.5M142.7 205.95v3.5M145.7 205.95v3.5M148 205.95v3.5M150.8 205.95v3.5M164.6 205.95v3.5M171.1 205.95v3.5M220 205.95v3.5M237.3 205.95v3.5" stroke="#222" stroke-width="0.75" fill="none"/>
<path d="M290.4 176.3H290.6M290.6 176.3V179.7M290.6 179.7H291.8M291.8 179.7V183.5M291.8 183.5H292.9M292.9 183.5V187.4M292.9 187.4H294M294 187.4V190.5M294 190.5H295.2M295.2 190.5V193.5M295.2 193.5H296.3M296.3 193.5V196.2M296.3 196.2H297.5M297.5 196.2V198.9M297.5 198.9H298.6M298.6 198.9V201.6M298.6 201.6H299.8M299.8 201.6V204.3M299.8 204.3H301M301 204.3V207.4M301 207.4H302.2M302.2 207.4V210.5M302.2 210.5H303.3M303.3 210.5V213.2M303.3 213.2H304.5M304.5 213.2V215.8M304.5 215.8H306M306 215.8V218.5M306 218.5H307.5M307.5 218.5V221.2M307.5 221.2H309M309 221.2V224M309 224H310.4M310.4 224V228M310.4 228H310.6M310.6 228V232.3M310.6 232.3H317.3M317.3 232.3H320.8M320.8 232.3V236.5M320.8 236.5H326.5M326.5 236.5V239.2M326.5 239.2H332.3M332.3 239.2V242.7M332.3 242.7H394.6M394.6 242.7V250.3M394.6 250.3H408M408 250.3V262M408 262H411.25M411.25 262V272.5M411.25 272.5H427.5" stroke="#222" stroke-width="1.05" fill="none" stroke-dasharray="1 0.8"/>
<path d="M312 230.55v3.5M315 230.55v3.5M333.5 240.95v3.5M336.9 240.95v3.5M341 240.95v3.5M346.2 240.95v3.5M350.8 240.95v3.5M360 240.95v3.5M364.6 240.95v3.5M366.5 240.95v3.5M390 240.95v3.5M405 248.55v3.5M415 270.75v3.5M427.5 270.75v3.5" stroke="#222" stroke-width="0.75" fill="none"/>
<path d="M290.4 176.3H290.6V176.5H293.7V178.2H296.8V180.5H299.1V182.8H301.4V185.1H303.7V186.6H305.2V187.4H312.9V187.4H315.2V189.2H317.5V192H319.1V194.3H322.2V195.1H325.2V196.6H328.3V198.2H331.4V199.7H333.7V201.2H335.2V203.5H336.8V205.8H338.3V208.2H345.2V208.2H346.8V209.7H348.3V211H369.2V211H371.5V216.2H375V220.3H502V220.3" stroke="#111" stroke-width="1.38" fill="none"/>
<path d="M309 185.65v3.5M322 194.05v3.5M343.8 209.25v3.5M349.6 209.25v3.5M353.1 209.25v3.5M355.4 209.25v3.5M358.8 209.25v3.5M362.3 209.25v3.5M366.9 209.25v3.5M381.9 218.55v3.5M388.9 218.55v3.5M393.75 218.55v3.5M397 218.55v3.5M402 218.55v3.5M404.5 218.55v3.5M406.25 218.55v3.5M408 218.55v3.5M411.25 218.55v3.5M413.75 218.55v3.5M427.5 218.55v3.5M502 218.55v3.5" stroke="#222" stroke-width="0.75" fill="none"/>
<path d="M23.6 335.1H25.3M25.3 335.1V339.8M25.3 339.8H27.8M27.8 339.8V341.7M27.8 341.7H28.5M28.5 341.7V343.6M28.5 343.6H32.3M32.3 343.6V348.7M32.3 348.7H38M38 348.7V353.7M38 353.7H39.2M39.2 353.7V358.2M39.2 358.2H41.1M41.1 358.2V362.6M41.1 362.6H42.5M42.5 362.6V363.7M42.5 363.7H55.6M55.6 363.7H56.5M56.5 363.7V368.5M56.5 368.5H58.5M58.5 368.5V371.3M58.5 371.3H60.4M60.4 371.3V377.1M60.4 377.1H62.3M62.3 377.1V383.8M62.3 383.8H64.2M64.2 383.8V389.6M64.2 389.6H66.2M66.2 389.6V396.3M66.2 396.3H109.4M109.4 396.3V401.4M109.4 401.4H112.9M112.9 401.4V406.6M112.9 406.6H164.1M164.1 406.6V417.3M164.1 417.3H196.9" stroke="#222" stroke-width="1.05" fill="none" stroke-dasharray="1 0.8"/>
<path d="M26.3 338.05v3.5M34 346.95v3.5M93 394.55v3.5M117.5 404.85v3.5M141.7 404.85v3.5M152.5 404.85v3.5M159.2 404.85v3.5M170 415.55v3.5M182.1 415.55v3.5M191.5 415.55v3.5M196.4 415.55v3.5" stroke="#222" stroke-width="0.75" fill="none"/>
<path d="M23.6 335.1H30.6V335.1H32.5V336.7H34.4V338.7H37.3V340.6H39.2V341.9H48.8V341.9H50.8V344.4H52.7V347.3H54.6V350.2H56.5V352.1H100.8V352.1H102.7V354H105.6V356.9H107.5V359.6H234.1V359.6" stroke="#111" stroke-width="1.38" fill="none"/>
<path d="M64.5 350.35v3.5M114.8 357.85v3.5M126.9 357.85v3.5M134.5 357.85v3.5M136.3 357.85v3.5M143.1 357.85v3.5M156.5 357.85v3.5M159.2 357.85v3.5M161.9 357.85v3.5M164.6 357.85v3.5M167.3 357.85v3.5M171.4 357.85v3.5M175.4 357.85v3.5M178.1 357.85v3.5M191.5 357.85v3.5M197.5 357.85v3.5M203.7 357.85v3.5M213.1 357.85v3.5M217.1 357.85v3.5M234.1 357.85v3.5" stroke="#222" stroke-width="0.75" fill="none"/>
<path d="M288.2 335.3H289M289 335.3V336.5M289 336.5H290.4M290.4 336.5V337.7M290.4 337.7H291.5M291.5 337.7V340.5M291.5 340.5H292.7M292.7 340.5V343.8M292.7 343.8H295M295 343.8V348.5M295 348.5H296.5M296.5 348.5V351.5M296.5 351.5H297.3M297.3 351.5V363.8M297.3 363.8H301.9M301.9 363.8H302.8M302.8 363.8V368M302.8 368H303.9M303.9 368V373M303.9 373H305M305 373V383.8M305 383.8H320.8M320.8 383.8V389M320.8 389H327.5M327.5 389V399.8M327.5 399.8H330.2M330.2 399.8V407.9M330.2 407.9H374.6M374.6 407.9V411.9M374.6 411.9H378.7M378.7 411.9V416M378.7 416H381.4M381.4 416V419.5M381.4 419.5H428.7M428.7 419.5V426.4M428.7 426.4H462.3" stroke="#222" stroke-width="1.05" fill="none" stroke-dasharray="1 0.8"/>
<path d="M313.5 382.05v3.5M416.2 417.75v3.5M433.5 424.65v3.5M435.8 424.65v3.5M456.5 424.65v3.5M462.3 424.65v3.5" stroke="#222" stroke-width="0.75" fill="none"/>
<path d="M288.2 335.3H291.9V335.8H293.5V338.5H295V340.8H296.5V343.1H298.1V346.9H299.2V350H300.4V353.1H302.7V355.4H305V356.9H306.5V358.1H316.5V358.1H318.1V360.8H321.2V362.3H322.5V363.5H323.5V365.6H366.5V368.3H379.5V371.2H499.2V371.2" stroke="#111" stroke-width="1.38" fill="none"/>
<path d="M312.7 356.35v3.5M329.6 363.85v3.5M335.8 363.85v3.5M386.7 369.45v3.5M390.8 369.45v3.5M398.9 369.45v3.5M401.5 369.45v3.5M403.5 369.45v3.5M408.1 369.45v3.5M413.7 369.45v3.5M416.2 369.45v3.5M419.6 369.45v3.5M421.9 369.45v3.5M424.2 369.45v3.5M426.5 369.45v3.5M438.1 369.45v3.5M440.4 369.45v3.5M445 369.45v3.5M451.9 369.45v3.5M454.2 369.45v3.5M456.5 369.45v3.5M469.2 369.45v3.5M476.2 369.45v3.5M478.5 369.45v3.5M499.2 369.45v3.5" stroke="#222" stroke-width="0.75" fill="none"/>
</svg></body></html>
